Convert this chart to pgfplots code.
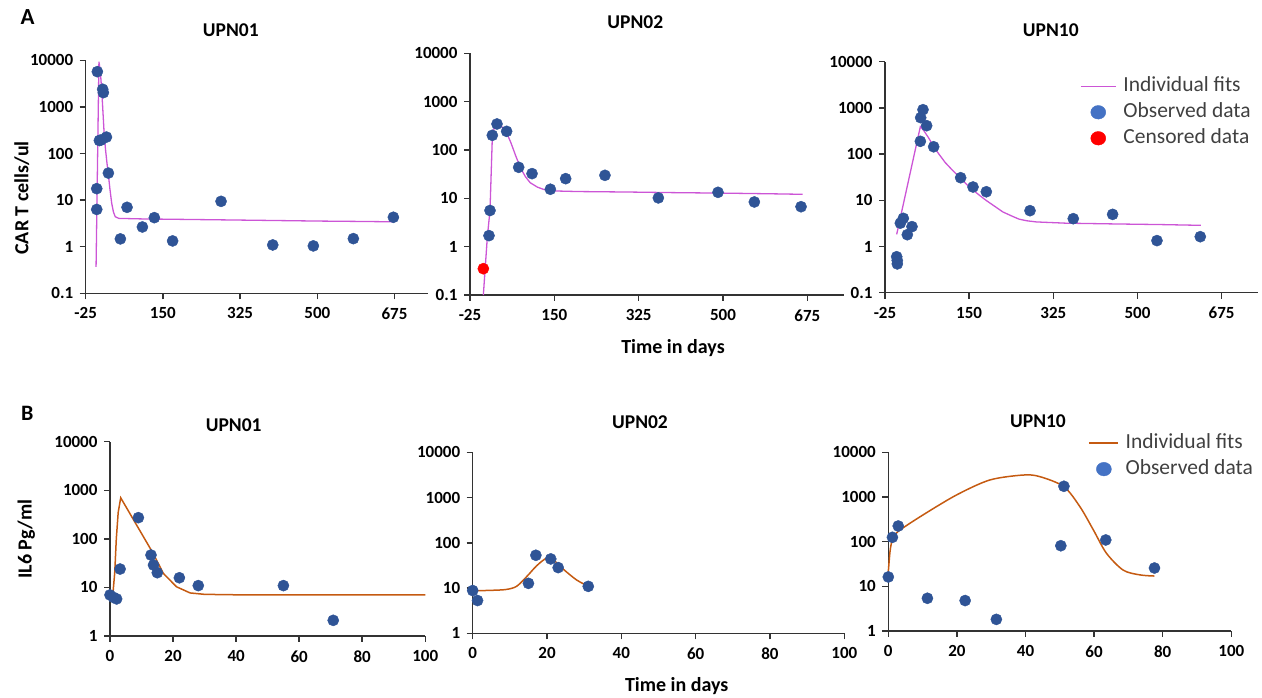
\documentclass[border=0pt]{standalone}
\usepackage{pgfplots}
\pgfplotsset{compat=1.18}
\usepackage{fontspec}
\setmainfont{Carlito}
\definecolor{dblue}{HTML}{2F5496}
\definecolor{lblue}{HTML}{4472C4}
\definecolor{fitm}{HTML}{CC55D6}
\definecolor{fito}{HTML}{C55A11}
\definecolor{legtxt}{HTML}{404040}
\pgfplotsset{
  myax/.style={scale only axis, clip=false, anchor=south west,
    axis x line*=bottom, axis y line*=left,
    axis line style={line width=1.5pt, black!80, -},
    tick style={line width=1.5pt, black!80},
    tick align=outside, major tick length=6pt,
    yminorticks=false,
    ticklabel style={font=\fontsize{17}{17}\selectfont\bfseries},
    yticklabel style={xshift=-3pt},
    xticklabel style={yshift=-5pt}},
  axA/.style={myax, xmin=-25, xmax=750, ymin=0.1, ymax=10000,
    xtick={-25,150,325,500,675}, xticklabels={-25,150,325,500,675},
    ytick={0.1,1,10,100,1000,10000}, yticklabels={0.1,1,10,100,1000,10000}},
  axB/.style={myax, xmin=0, xmax=100, ymin=1, ymax=10000,
    xtick={0,20,40,60,80,100}, xticklabels={0,20,40,60,80,100},
    ytick={1,10,100,1000,10000}, yticklabels={1,10,100,1000,10000}},
  obs/.style={only marks, mark=*, mark size=5.6pt, mark options={fill=dblue, draw=dblue}},
  fitA/.style={no marks, fitm, line width=1.3pt},
  fitB/.style={no marks, fito, line width=1.5pt},
  leg/.style={legend style={draw=none, fill=none, inner sep=0pt, anchor=north west,
    font=\fontsize{21.5}{24}\selectfont\color{legtxt},
    nodes={inner sep=2pt, text height=14pt, text depth=4pt}, row sep=4pt, column sep=5pt},
    legend cell align=left}
}
\begin{document}
\begin{tikzpicture}
\useasboundingbox (0,0) rectangle (1262pt,698pt);
% ---------- A1
\begin{semilogyaxis}[axA, at={(85.7pt,404.7pt)}, width=341.9pt, height=233pt]
\addplot[fitA] coordinates {(-1.5,0.37)(5,9300)(7,7000)(9,4500)(11,2500)(13,1200)(15,550)(17,250)(20,120)(23,65)(26,38)(30,17)(34,8.5)(38,5.5)(42,4.4)(50,4.05)(100,3.95)(200,3.85)(300,3.75)(400,3.65)(500,3.55)(600,3.48)(672,3.42)};
\addplot[obs] coordinates {(1.4,5700)(13.5,2390)(15,2020)(6,190)(10,195)(22,225)(26.4,38)(0,17.6)(0,6.3)(53.6,1.47)(68.7,7)(103.5,2.65)(130.6,4.2)(172,1.33)(281.8,9.4)(399,1.09)(491,1.04)(581.7,1.49)(672.4,4.28)};
\end{semilogyaxis}
% ---------- A2
\begin{semilogyaxis}[axA, at={(470pt,403pt)}, width=373.5pt, height=241.7pt]
\addplot[fitA] coordinates {(2.7,0.1)(11,1.6)(16.5,5.6)(21.3,180)(25,280)(30,330)(35,330)(40,310)(50,240)(60,140)(70,75)(80,42)(90,28)(100,21)(115,17)(130,15)(150,14.2)(200,13.8)(300,13.5)(400,13.1)(500,12.8)(600,12.4)(665,12.1)};
\addplot[obs] coordinates {(14.4,1.69)(16.5,5.6)(21.3,201)(31,345)(51,243)(76,43.8)(103.7,32.4)(141.7,15.4)(173.5,25.5)(255,29.9)(365.8,10.2)(489.6,13.3)(565,8.4)(661.9,6.7)};
\addplot[only marks, mark=*, mark size=5.6pt, mark options={fill=red, draw=red}] coordinates {(2.7,0.35)};
\end{semilogyaxis}
% ---------- A3
\begin{semilogyaxis}[axA, leg, at={(885pt,405.3pt)}, width=372.7pt, height=231pt,
  legend style={at={(0.523,0.942)}}]
\addplot[fitA, forget plot] coordinates {(-0.7,1.83)(48.5,392)(55,330)(65,230)(81,122)(100,66)(115,45)(132,30)(145,22)(160,16)(175,12)(185,10)(200,7.8)(220,5.6)(240,4.5)(254,3.9)(270,3.6)(290,3.4)(350,3.2)(450,3.08)(550,2.98)(632,2.87)};
\addplot[obs, forget plot] coordinates {(-0.7,0.6)(0.5,0.5)(0.6,0.42)(6.9,3.2)(13.1,4.07)(21.4,1.8)(31.1,2.69)(48.5,189)(49.2,614)(54,914)(61.6,412)(76.2,144)(132.3,30.8)(158,19.4)(185.7,15.3)(276.5,5.96)(366.5,4.0)(448.3,4.96)(540.5,1.34)(630.6,1.63)};
\addlegendimage{legend image code/.code={\draw[fitm, line width=1.3pt] (0pt,0pt) -- (35pt,0pt);}}
\addlegendentry{Individual fits}
\addlegendimage{legend image code/.code={\fill[lblue] (17.5pt,0pt) ellipse (7.5pt and 6.8pt);}}
\addlegendentry{Observed data}
\addlegendimage{legend image code/.code={\fill[red] (17.5pt,0pt) ellipse (7.5pt and 6.8pt);}}
\addlegendentry{Censored data}
\end{semilogyaxis}
% ---------- B1
\begin{semilogyaxis}[axB, at={(110pt,62pt)}, width=315.3pt, height=194.3pt]
\addplot[fitB] coordinates {(0,7.2)(1,8.5)(1.5,20)(2,100)(2.6,350)(3.4,700)(13.7,50)(16.9,19.5)(21.1,10.3)(25.4,7.7)(30,7.2)(40,7.05)(100,7.0)};
\addplot[obs] coordinates {(0,7.0)(1.06,6.25)(2.1,5.8)(3.2,23.9)(9,273)(13,46.4)(13.8,28.9)(15,20.1)(22,15.8)(28,10.9)(55,10.9)(70.8,2.1)};
\end{semilogyaxis}
% ---------- B2
\begin{semilogyaxis}[axB, at={(472.7pt,64.7pt)}, width=371.6pt, height=181pt]
\addplot[fitB, smooth] coordinates {(0,8.7)(5,8.9)(9,9.3)(11.8,10.9)(14.5,17.8)(17.2,31)(19.9,46)(21.7,42)(24.4,26)(28,15)(31.1,11)};
\addplot[obs] coordinates {(0,8.8)(1.3,5.3)(15,12.7)(17,53)(21,44)(23,28.3)(31.1,10.9)};
\end{semilogyaxis}
% ---------- B3
\begin{semilogyaxis}[axB, leg, at={(888.3pt,67pt)}, width=343pt, height=178.7pt,
  legend style={at={(0.582,1.114)}}]
\addplot[fitB, smooth, forget plot] coordinates {(0,21)(0.5,60)(1,100)(1.5,129)(3.4,182)(10.2,400)(19.9,1110)(29.6,2400)(39.4,3100)(44.2,2850)(51.2,1700)(55.9,600)(59.8,182)(63.6,55)(68.5,23)(73.4,18)(77.6,17)};
\addplot[obs, forget plot] coordinates {(0,16.2)(1.2,125)(2.9,224)(11.4,5.4)(22.4,4.8)(31.5,1.82)(50.3,81)(51.2,1735)(63.4,109)(77.6,25.7)};
\addlegendimage{legend image code/.code={\draw[fito, line width=1.5pt] (0pt,0pt) -- (29pt,0pt);}}
\addlegendentry{Individual fits}
\addlegendimage{legend image code/.code={\fill[lblue] (15pt,0pt) ellipse (7.5pt and 6.8pt);}}
\addlegendentry{Observed data}
\end{semilogyaxis}
% ---------- texts
\node[font=\fontsize{23}{23}\selectfont\bfseries, anchor=center] at (27.7pt,681.3pt) {A};
\node[font=\fontsize{22}{22}\selectfont\bfseries, anchor=center] at (27.3pt,284.7pt) {B};
\node[font=\fontsize{19.5}{20}\selectfont\bfseries] at (230.8pt,668pt) {UPN01};
\node[font=\fontsize{19.5}{20}\selectfont\bfseries] at (635.3pt,676.3pt) {UPN02};
\node[font=\fontsize{19.5}{20}\selectfont\bfseries] at (1050.8pt,668pt) {UPN10};
\node[font=\fontsize{19.5}{20}\selectfont\bfseries] at (233.7pt,273pt) {UPN01};
\node[font=\fontsize{19.5}{20}\selectfont\bfseries] at (640pt,276.3pt) {UPN02};
\node[font=\fontsize{19.5}{20}\selectfont\bfseries] at (1038pt,277pt) {UPN10};
\node[font=\fontsize{20}{20}\selectfont\bfseries, rotate=90, anchor=base] at (28.3pt,500pt) {CAR T cells/ul};
\node[font=\fontsize{20}{20}\selectfont\bfseries, rotate=90, anchor=base] at (31.7pt,159pt) {IL6 Pg/ml};
\node[font=\fontsize{20}{20}\selectfont\bfseries, anchor=base] at (673pt,344pt) {Time in days};
\node[font=\fontsize{20}{20}\selectfont\bfseries, anchor=base] at (676.7pt,6.5pt) {Time in days};
\end{tikzpicture}
\end{document}
